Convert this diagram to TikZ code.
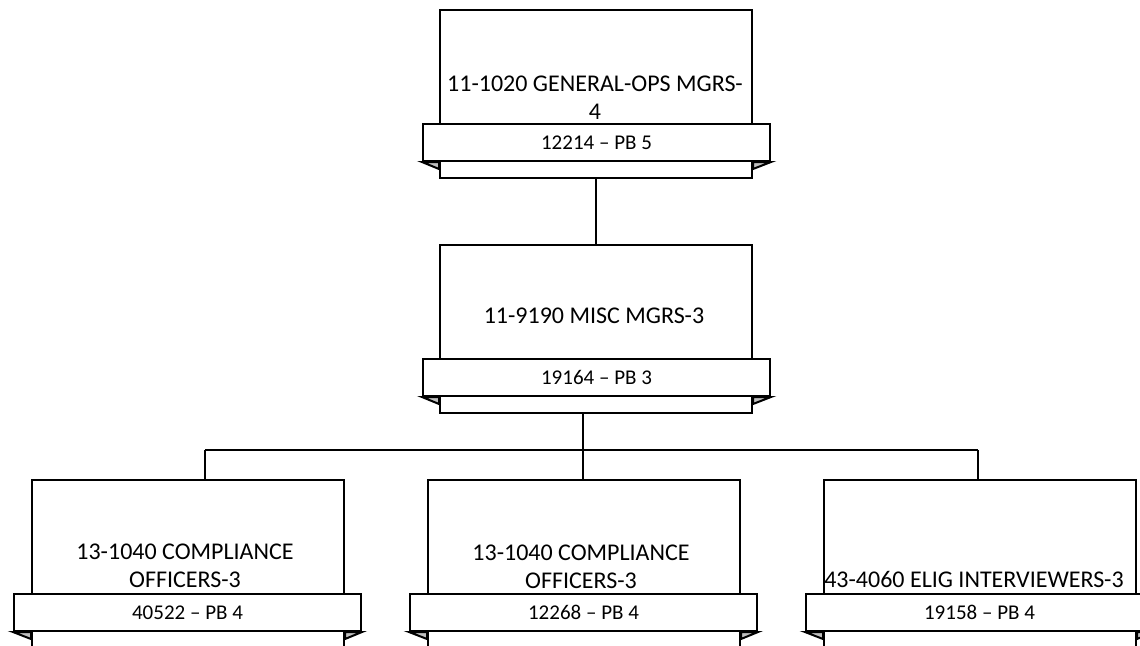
\documentclass[tikz,border=0pt]{standalone}
\usepackage{fontspec}
\setmainfont{Carlito}
\definecolor{foldgray}{HTML}{BFBFBF}
\begin{document}
\begin{tikzpicture}[x=1pt,y=-1pt,
  line width=2pt,
  box/.style={draw=black, fill=white, minimum width=312pt, inner sep=0pt, anchor=north west},
  ribbon/.style={draw=black, fill=white, minimum width=347pt, minimum height=37pt, inner sep=0pt, anchor=north west, font=\fontsize{21}{25}\selectfont},
  lbl/.style={inner sep=0pt, align=center, anchor=base, font=\fontsize{24}{28}\selectfont},
  fold/.style={draw=black, fill=foldgray, line join=miter}]
\useasboundingbox (0,0) rectangle (1140,645);
\clip (0,0) rectangle (1140,645);
\fill[white] (0,0) rectangle (1140,645);

% top unit
\node[box, minimum height=168pt] (top) at (439,9) {};
\node[ribbon] (topR) at (422,123) {12214 – PB 5};
\draw[fold] (topR.south west) -- (topR.south west -| top.west) -- ++(0,7) -- cycle;
\draw[fold] (topR.south east) -- (topR.south east -| top.east) -- ++(0,7) -- cycle;
\node[lbl] (topT) at (595,119) {11-1020 GENERAL-OPS MGRS-\\4};

% middle unit
\node[box, minimum height=168pt] (mid) at (439,244) {};
\node[ribbon] (midR) at (422,358) {19164 – PB 3};
\draw[fold] (midR.south west) -- (midR.south west -| mid.west) -- ++(0,7) -- cycle;
\draw[fold] (midR.south east) -- (midR.south east -| mid.east) -- ++(0,7) -- cycle;
\node[lbl] (midT) at (594,323) {11-9190 MISC MGRS-3};

% bottom units
\node[box, minimum height=221pt] (b1) at (31,479) {};
\node[ribbon] (b1R) at (13,593) {40522 – PB 4};
\draw[fold] (b1R.south west) -- (b1R.south west -| b1.west) -- ++(0,7) -- cycle;
\draw[fold] (b1R.south east) -- (b1R.south east -| b1.east) -- ++(0,7) -- cycle;
\node[lbl] (b1T) at (185,587) {13-1040 COMPLIANCE\\OFFICERS-3};

\node[box, minimum height=221pt] (b2) at (427,479) {};
\node[ribbon] (b2R) at (409,593) {12268 – PB 4};
\draw[fold] (b2R.south west) -- (b2R.south west -| b2.west) -- ++(0,7) -- cycle;
\draw[fold] (b2R.south east) -- (b2R.south east -| b2.east) -- ++(0,7) -- cycle;
\node[lbl] (b2T) at (581,588) {13-1040 COMPLIANCE\\OFFICERS-3};

\node[box, minimum height=221pt] (b3) at (823,479) {};
\node[ribbon] (b3R) at (805,593) {19158 – PB 4};
\draw[fold] (b3R.south west) -- (b3R.south west -| b3.west) -- ++(0,7) -- cycle;
\draw[fold] (b3R.south east) -- (b3R.south east -| b3.east) -- ++(0,7) -- cycle;
\node[lbl] (b3T) at (974,587) {43-4060 ELIG INTERVIEWERS-3};

% connectors
\draw (top.south) -- (mid.north);
\coordinate (j1) at (205,450);
\coordinate (j2) at (583,450);
\coordinate (j3) at (978,450);
\draw (mid.south -| j2) -- (j2);
\draw (j1) -- (j3);
\draw (j1) -- (j1 |- b1.north);
\draw (j2) -- (j2 |- b2.north);
\draw (j3) -- (j3 |- b3.north);
\end{tikzpicture}
\end{document}
